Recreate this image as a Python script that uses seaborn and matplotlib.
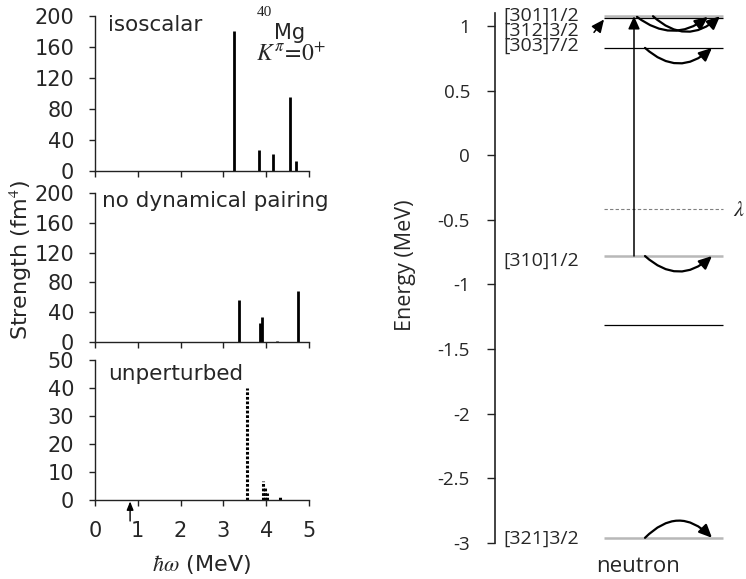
import matplotlib
matplotlib.use("Agg")
import matplotlib.pyplot as plt
import seaborn as sns
import pandas as pd

# ---------------- data ----------------
iso_E = [3.25, 3.79, 3.83, 4.17, 4.56, 4.70]
iso_S = [181, 0.6, 27, 22, 96, 13]
nodyn_E = [3.36, 3.85, 3.90, 4.26, 4.75]
nodyn_S = [56, 26, 33, 1.5, 68]
unp_E = [3.54, 3.93, 3.98, 4.03, 4.33]
unp_S = [40, 6.8, 4.6, 2.5, 1.0]
strength_ticks = [0, 40, 80, 120, 160, 200]
unp_ticks = [0, 10, 20, 30, 40, 50]
omega_ticks = [0, 1, 2, 3, 4, 5]
arrow_E = 0.82

level_E = [1.08, 1.06, 0.83, -0.78, -1.31, -2.96]
level_labels = ["[301]1/2", "[312]3/2", "[303]7/2", "[310]1/2", "", "[321]3/2"]
level_gray = [True, False, False, True, False, True]
fermi_E = -0.42
energy_ticks = [1, 0.5, 0, -0.5, -1, -1.5, -2, -2.5, -3]

# ---------------- style ----------------
sns.set_style("ticks")
plt.rcParams["font.family"] = ["DejaVu Sans"]
plt.rcParams["mathtext.fontset"] = "stix"
plt.rcParams["axes.unicode_minus"] = False

W, H = 746, 579
fig = plt.figure(figsize=(W / 100, H / 100), dpi=100)


def rect(x0, y0, x1, y1):
    return [x0 / W, 1 - y1 / H, (x1 - x0) / W, (y1 - y0) / H]


def px(x, y):
    return x / W, 1 - y / H


spine_c = "#222222"


def style_left(ax, ylim, yticks, show_x):
    ax.set_xlim(0, 5)
    ax.set_ylim(*ylim)
    ax.set_yticks(yticks)
    ax.set_xticks(omega_ticks)
    sns.despine(ax=ax)
    for s in ["left", "bottom"]:
        ax.spines[s].set_color(spine_c)
        ax.spines[s].set_linewidth(1.0)
    ax.tick_params(axis="both", direction="out", length=4, width=1.0,
                   color=spine_c, pad=11)
    ax.tick_params(axis="y", labelsize=15)
    ax.tick_params(axis="x", labelsize=15)
    if not show_x:
        ax.tick_params(axis="x", labelbottom=False)
    ax.set_facecolor("none")


ax1 = fig.add_axes(rect(95, 16, 309, 171))
ax2 = fig.add_axes(rect(95, 193, 309, 342))
ax3 = fig.add_axes(rect(95, 360, 309, 500))

df_iso = pd.DataFrame({"E": iso_E, "S": iso_S})
df_nd = pd.DataFrame({"E": nodyn_E, "S": nodyn_S})
df_up = pd.DataFrame({"E": unp_E, "S": unp_S})

ax1.vlines(df_iso["E"], 0, df_iso["S"], color="black", lw=2.0)
ax2.vlines(df_nd["E"], 0, df_nd["S"], color="black", lw=2.0)
ax3.vlines(df_up["E"], 0, df_up["S"], color="black", lw=2.2,
           linestyles=(0, (0.9, 0.6)))

style_left(ax1, (0, 200), strength_ticks, False)
style_left(ax2, (0, 200), strength_ticks, False)
style_left(ax3, (0, 50), unp_ticks, True)

ax3.annotate("", xy=(arrow_E, -0.01), xytext=(arrow_E, -0.15),
             xycoords=("data", "axes fraction"), textcoords=("data", "axes fraction"),
             arrowprops=dict(arrowstyle="-|>,head_length=0.5,head_width=0.2",
                             color="black", lw=1.0, shrinkA=0, shrinkB=0),
             annotation_clip=False)

fig.text(*px(108, 25), "isoscalar", fontsize=15.5, va="center", ha="left")
fig.text(*px(102, 201), "no dynamical pairing", fontsize=15.5, va="center", ha="left")
fig.text(*px(108, 374), "unperturbed", fontsize=15.5, va="center", ha="left")
fig.text(*px(257, 12), "40", fontsize=11, family="Liberation Serif", va="center", ha="left")
fig.text(*px(274, 33), "Mg", fontsize=15, va="center", ha="left")
fig.text(*px(256, 54), r"$K^{\pi}\!=\!0^{+}$", fontsize=17, va="center", ha="left")
fig.text(*px(21, 260), r"Strength (fm$^{4}$)", fontsize=16, rotation=90,
         va="center", ha="center")
fig.text(*px(201, 565), r"$\hbar\omega$ (MeV)", fontsize=16, va="center", ha="center")

# ---------------- right panel ----------------
axr = fig.add_axes(rect(495, 13, 746, 543))
axr.set_xlim(0, 251)
axr.set_ylim(-3, 1.1)
axr.set_yticks(energy_ticks)
axr.set_yticklabels([f"{t:g}" for t in energy_ticks], family="Open Sans", fontsize=13.5)
axr.set_xticks([])
sns.despine(ax=axr, bottom=True)
axr.spines["left"].set_color(spine_c)
axr.spines["left"].set_linewidth(1.2)
axr.tick_params(axis="y", direction="out", length=6, width=1.0, color=spine_c, pad=12)
axr.set_facecolor("none")

x0, x1 = 109, 228
for e, g in zip(level_E, level_gray):
    axr.hlines(e, x0, x1, color="#b8b8b8" if g else "black",
               lw=1.8 if g else 0.9, zorder=2 if g else 3)
axr.hlines(fermi_E, x0, x1, color="#808080", lw=0.8, linestyles=(0, (3, 2)))

# labels (top three stacked tightly, as one block)
axr.text(8, 0.965, "\n".join(level_labels[:3]), family="Open Sans", fontsize=14,
         va="center", ha="left", linespacing=0.78)
axr.text(8, level_E[3] - 0.04, level_labels[3], family="Open Sans", fontsize=14,
         va="center", ha="left")
axr.text(8, level_E[5] - 0.01, level_labels[5], family="Open Sans", fontsize=14,
         va="center", ha="left")

astyle = "-|>,head_length=0.55,head_width=0.25"


def arr(xy0, xy1, rad, lw=1.6):
    axr.annotate("", xy=xy1, xytext=xy0,
                 arrowprops=dict(arrowstyle=astyle, color="black", lw=lw,
                                 shrinkA=0, shrinkB=0, mutation_scale=14,
                                 connectionstyle=f"arc3,rad={rad}"),
                 annotation_clip=False)


# vertical arrow
arr((139, level_E[3]), (139, level_E[0] - 0.005), 0, lw=1.1)
# small arrow beside labels
arr((99, 0.95), (109, 1.05), 0, lw=1.1)
# curved arrows
arr((142, 1.07), (213, 1.07), 0.38)
arr((158, 1.075), (225, 1.075), 0.45)
arr((150, level_E[2]), (217, level_E[2]), 0.45)
arr((150, level_E[3]), (217, level_E[3]), 0.45)
arr((150, level_E[5]), (217, level_E[5]), -0.5)

fig.text(*px(405, 265), "Energy (MeV)", family="Open Sans", fontsize=15.5,
         rotation=90, va="center", ha="center")
fig.text(*px(638, 567), "neutron", family="Open Sans", fontsize=16,
         va="center", ha="center")
fig.text(*px(733, 210), r"$\lambda$", fontsize=16, va="center", ha="left")

fig.savefig("out.png", dpi=100)
